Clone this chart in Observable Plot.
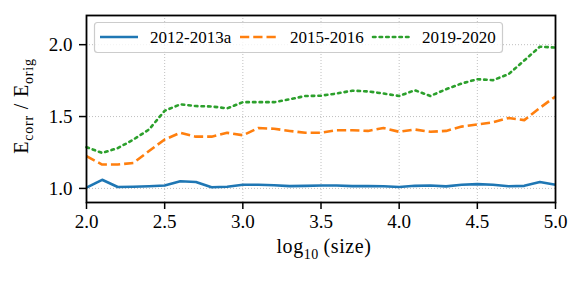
<!DOCTYPE html>
<html>
<head>
<meta charset="utf-8">
<script src="https://cdn.jsdelivr.net/npm/d3@7"></script>
<script src="https://cdn.jsdelivr.net/npm/@observablehq/plot@0.6"></script>
<style>
  html, body { margin: 0; padding: 0; background: white; }
  #chart { width: 581px; height: 283px; }
</style>
</head>
<body>
<div id="chart"></div>
<script>
const logSizes = [2.0,2.1,2.2,2.3,2.4,2.5,2.6,2.7,2.8,2.9,3.0,3.1,3.2,3.3,3.4,3.5,3.6,3.7,3.8,3.9,4.0,4.1,4.2,4.3,4.4,4.5,4.6,4.7,4.8,4.9,5.0];
const series2012 = [1.005,1.06,1.01,1.012,1.015,1.02,1.05,1.045,1.008,1.012,1.025,1.025,1.022,1.016,1.018,1.02,1.02,1.016,1.016,1.015,1.01,1.018,1.02,1.014,1.025,1.03,1.025,1.015,1.018,1.045,1.025];
const series2015 = [1.224,1.166,1.166,1.177,1.26,1.34,1.387,1.36,1.36,1.387,1.37,1.42,1.415,1.40,1.387,1.387,1.405,1.405,1.40,1.42,1.394,1.41,1.394,1.40,1.43,1.445,1.46,1.49,1.475,1.56,1.64];
const series2019 = [1.287,1.247,1.28,1.34,1.41,1.54,1.585,1.573,1.57,1.557,1.60,1.60,1.60,1.62,1.643,1.645,1.66,1.68,1.675,1.66,1.643,1.683,1.643,1.69,1.73,1.76,1.753,1.795,1.89,1.986,1.98];
const seriesNames = ["2012-2013a","2015-2016","2019-2020"];
const xTicks = [2.0,2.5,3.0,3.5,4.0,4.5,5.0];
const yTicks = [1.0,1.5,2.0];

const colors = ["#1f77b4","#ff7f0e","#2ca02c"];
const dashes = [null,"9.25,4","2.5,4.1"];
const allSeries = [series2012, series2015, series2019];

const rows = [];
allSeries.forEach((s, k) => s.forEach((v, i) => rows.push({name: seriesNames[k], x: logSizes[i], y: v})));

const FONT = "Liberation Serif";

const plot = Plot.plot({
  width: 581,
  height: 283,
  marginLeft: 86,
  marginRight: 26,
  marginTop: 15,
  marginBottom: 81,
  style: {fontFamily: FONT, fontSize: "19px", color: "black", background: "white"},
  x: {domain: [2, 5]},
  y: {domain: [0.902, 2.203]},
  marks: [
    Plot.gridX(xTicks, {stroke: "#b0b0b0", strokeOpacity: 1, strokeWidth: 0.8, strokeDasharray: "1,2"}),
    Plot.gridY(yTicks, {stroke: "#b0b0b0", strokeOpacity: 1, strokeWidth: 0.8, strokeDasharray: "1,2"}),
    ...seriesNames.map((n, k) => Plot.line(rows.filter(r => r.name === n), {
      x: "x", y: "y", stroke: colors[k], strokeWidth: 2.6,
      strokeDasharray: dashes[k] || undefined, strokeLinejoin: "round", strokeLinecap: k === 2 ? "round" : "butt"
    })),
    Plot.frame({stroke: "black", strokeWidth: 1.8}),
    Plot.axisX(xTicks, {tickFormat: d3.format(".1f"), tickSize: 7, tickPadding: 5, label: null, strokeWidth: 1.5, fontSize: 19}),
    Plot.axisY(yTicks, {tickFormat: d3.format(".1f"), tickSize: 7, tickPadding: 7, label: null, strokeWidth: 1.5, fontSize: 19})
  ]
});

const svg = d3.select(plot);

// axis labels with subscripts
const xl = svg.append("text")
  .attr("x", 324).attr("y", 253)
  .attr("text-anchor", "middle").attr("font-family", FONT)
  .style("font-size", "20px").style("letter-spacing", "0.6px").attr("fill", "black");
xl.append("tspan").text("log");
xl.append("tspan").attr("dy", 6).style("font-size", "14px").text("10");
xl.append("tspan").attr("dy", -6).text("\u2009(size)");

const yl = svg.append("text")
  .attr("transform", "translate(28,106) rotate(-90)")
  .attr("text-anchor", "middle").attr("font-family", FONT)
  .style("font-size", "20px").style("letter-spacing", "0.8px").attr("fill", "black");
yl.append("tspan").text("E");
yl.append("tspan").attr("dy", 5).style("font-size", "14px").text("corr");
yl.append("tspan").attr("dy", -5).text(" / E");
yl.append("tspan").attr("dy", 5).style("font-size", "14px").text("orig");

// legend
const lg = svg.append("g");
lg.append("rect").attr("x", 94.5).attr("y", 22.5).attr("width", 408).attr("height", 30)
  .attr("rx", 3).attr("fill", "white").attr("fill-opacity", 0.8)
  .attr("stroke", "#cccccc").attr("stroke-width", 1.2);
const entries = [
  {x0: 100, x1: 138, tx: 150},
  {x0: 240, x1: 278, tx: 290},
  {x0: 373, x1: 411, tx: 422}
];
entries.forEach((e, k) => {
  lg.append("line").attr("x1", e.x0).attr("x2", e.x1).attr("y1", 37).attr("y2", 37)
    .attr("stroke", colors[k]).attr("stroke-width", 2.6)
    .attr("stroke-dasharray", dashes[k])
    .attr("stroke-linecap", k === 2 ? "round" : "butt");
  lg.append("text").attr("x", e.tx).attr("y", 43)
    .attr("text-anchor", "start").attr("font-family", FONT)
    .style("font-size", "17px").attr("fill", "black")
    .text(seriesNames[k]);
});

document.getElementById("chart").appendChild(plot);
</script>
</body>
</html>
